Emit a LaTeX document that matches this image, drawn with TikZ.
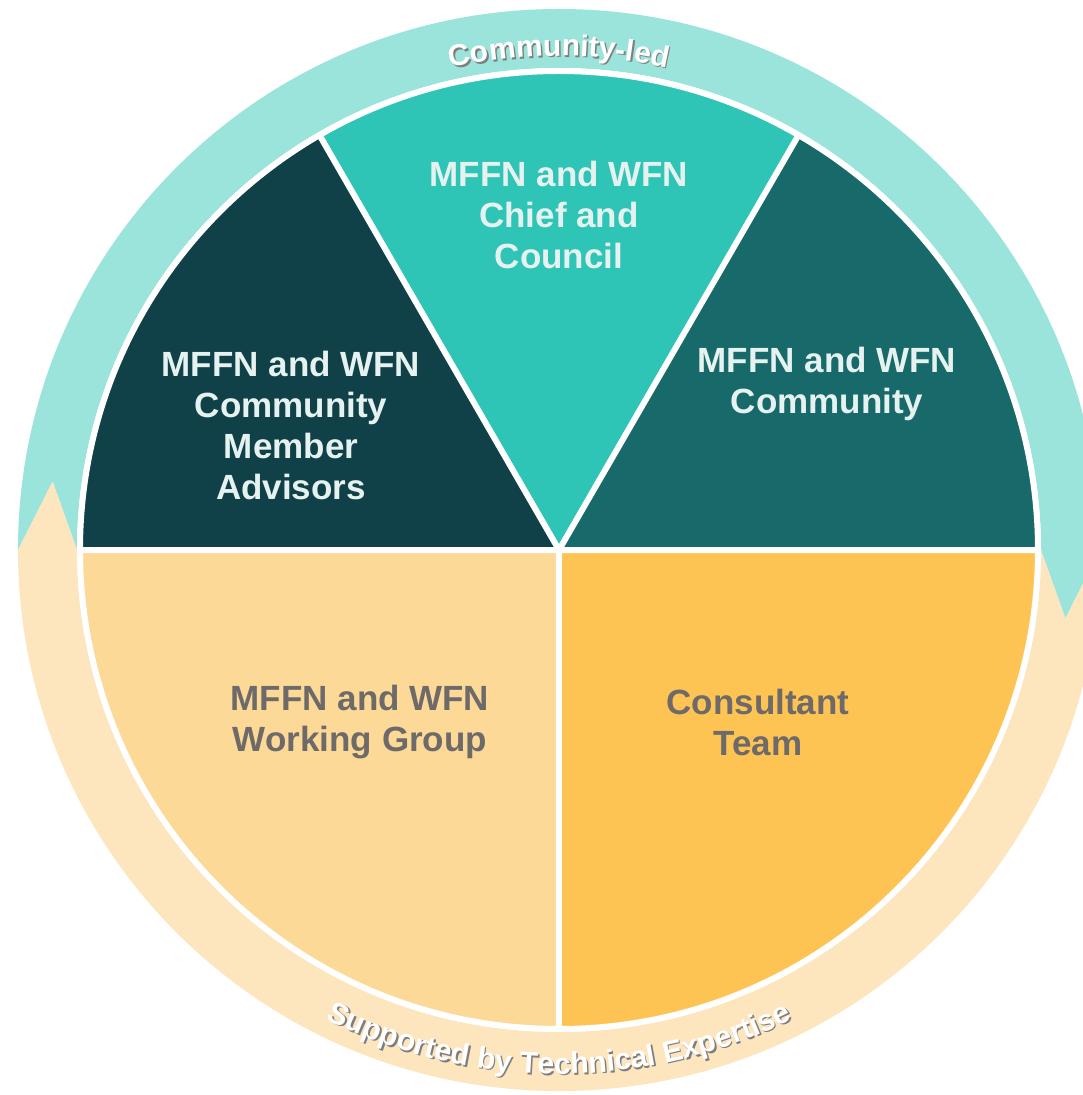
\documentclass[tikz,border=0pt]{standalone}
\usepackage{fontspec}
\setmainfont{Liberation Sans}
\usetikzlibrary{decorations.text}
\definecolor{chiefteal}{HTML}{2EC4B6}
\definecolor{advisorteal}{HTML}{104048}
\definecolor{communityteal}{HTML}{18696A}
\definecolor{workingpeach}{HTML}{FCD996}
\definecolor{consultantgold}{HTML}{FEC453}
\definecolor{ringteal}{HTML}{9BE4DB}
\definecolor{ringpeach}{HTML}{FDE6BE}
\definecolor{lighttext}{HTML}{E6F2EF}
\definecolor{greytext}{HTML}{6D6A69}
\definecolor{ringshadow}{HTML}{7E7E7E}
\newcommand{\ringfont}{\bfseries\fontsize{30}{30}\selectfont}
\tikzset{%
  wedgelabel/.style={%
    align=center,%
    font=\bfseries\fontsize{35}{41}\selectfont,%
    text=lighttext},
  divider/.style={%
    draw=white,%
    line width=6pt},
  ringtext/.style={%
    decorate,%
    decoration={text along path,%
      text align=center}}
}

\begin{document}
\begin{tikzpicture}[x=1pt,y=1pt]
  \useasboundingbox (-559,550) rectangle (524,-545);
  \clip (-559,550) rectangle (524,-545);
  \fill[white] (-559,550) rectangle (524,-545);
  \coordinate (c) at (0,0);
  % ring arrows
  \fill[ringteal] (180:541pt) arc[start angle=180,end angle=0,radius=541pt]
    -- (-7.7:511pt) -- (0:482pt) arc[start angle=0,end angle=180,radius=482pt]
    -- (172.3:511pt) -- cycle;
  \fill[ringpeach] (0:541pt) arc[start angle=0,end angle=-180,radius=541pt]
    -- (172.3:511pt) -- (-180:482pt) arc[start angle=-180,end angle=0,radius=482pt]
    -- (-7.7:511pt) -- cycle;
  % wedges
  \fill[chiefteal] (c) -- (60:478pt) arc[start angle=60,end angle=120,radius=478pt] -- cycle;
  \fill[advisorteal] (c) -- (120:478pt) arc[start angle=120,end angle=180,radius=478pt] -- cycle;
  \fill[communityteal] (c) -- (0:478pt) arc[start angle=0,end angle=60,radius=478pt] -- cycle;
  \fill[workingpeach] (c) -- (180:478pt) arc[start angle=180,end angle=270,radius=478pt] -- cycle;
  \fill[consultantgold] (c) -- (270:478pt) arc[start angle=270,end angle=360,radius=478pt] -- cycle;
  \draw[divider] (c) -- (60:478pt) (c) -- (120:478pt) (180:478pt) -- (0:478pt) (c) -- (270:478pt);
  \draw[divider] (c) circle[radius=479pt];
  % labels
  \node[wedgelabel] (chief) at (0,335) {MFFN and WFN\\Chief and\\Council};
  \node[wedgelabel] (advisors) at (-268,125) {MFFN and WFN\\Community\\Member\\Advisors};
  \node[wedgelabel] (community) at (268,166) {MFFN and WFN\\Community};
  \node[wedgelabel, text=greytext] (working) at (-199,-172) {MFFN and WFN\\Working Group};
  \node[wedgelabel, text=greytext] (consultant) at (199,-172) {Consultant\\Team};
  % ring texts
  \path[ringtext, xshift=1.5pt, yshift=-1.5pt,
    decoration={text color=ringshadow, text={|\ringfont|Community-led}}]
    (150:494pt) arc[start angle=150,end angle=30,radius=494pt];
  \path[ringtext, decoration={text color=white, text={|\ringfont|Community-led}}]
    (150:494pt) arc[start angle=150,end angle=30,radius=494pt];
  \path[ringtext, xshift=1.5pt, yshift=-1.5pt,
    decoration={text color=ringshadow, text={|\ringfont|Supported by Technical Expertise}}]
    (235:524pt) arc[start angle=235,end angle=305,radius=524pt];
  \path[ringtext, decoration={text color=white, text={|\ringfont|Supported by Technical Expertise}}]
    (235:524pt) arc[start angle=235,end angle=305,radius=524pt];
\end{tikzpicture}
\end{document}
